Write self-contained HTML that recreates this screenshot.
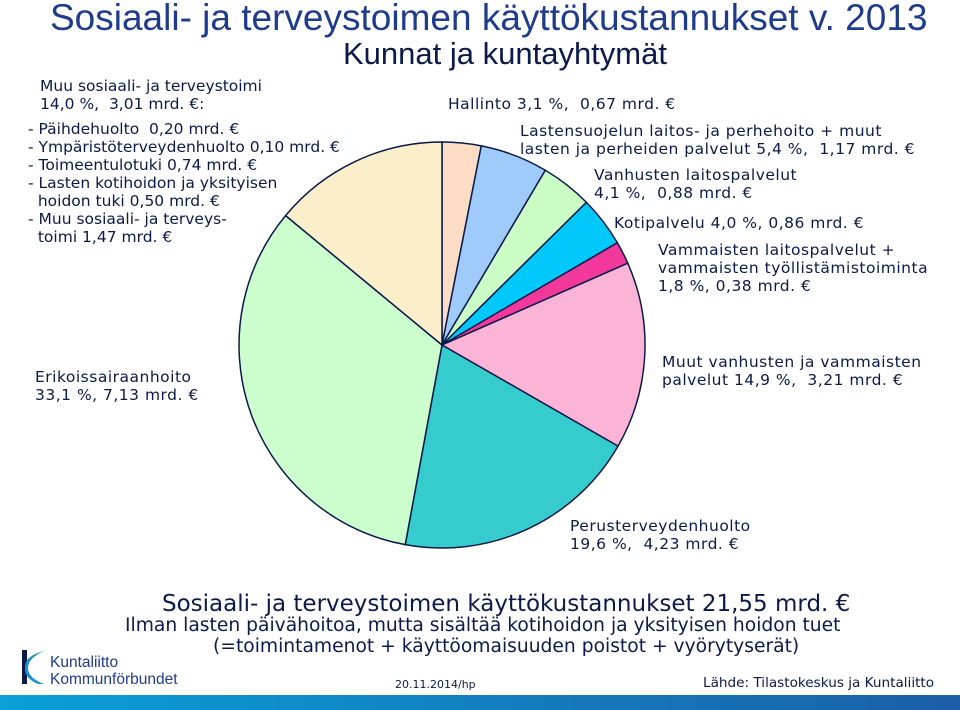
<!DOCTYPE html>
<html><head><meta charset="utf-8"><style>
body{margin:0;width:960px;height:710px;overflow:hidden;background:#fff;position:relative;font-family:"DejaVu Sans","Liberation Sans",sans-serif;color:#0b1a4a}
.t{position:absolute;white-space:pre;font-size:15.5px;line-height:18px}
.r{letter-spacing:0.5px}
</style></head><body>
<div class="t" style="left:50px;top:-2px;font-family:'Liberation Sans',sans-serif;font-size:37px;line-height:40px;color:#1f3c8c">Sosiaali- ja terveystoimen käyttökustannukset v. 2013</div>
<div class="t" style="left:343px;top:37px;font-family:'Liberation Sans',sans-serif;font-size:31px;line-height:34px">Kunnat ja kuntayhtymät</div>
<div class="t" style="left:40px;top:77px">Muu sosiaali- ja terveystoimi
14,0 %,  3,01 mrd. €:</div>
<div class="t" style="left:28px;top:120px">- Päihdehuolto  0,20 mrd. €
- Ympäristöterveydenhuolto 0,10 mrd. €
- Toimeentulotuki 0,74 mrd. €
- Lasten kotihoidon ja yksityisen
  hoidon tuki 0,50 mrd. €
- Muu sosiaali- ja terveys-
  toimi 1,47 mrd. €</div>
<div class="t r" style="left:448px;top:95px">Hallinto 3,1 %,  0,67 mrd. €</div>
<div class="t r" style="left:520px;top:122px">Lastensuojelun laitos- ja perhehoito + muut
lasten ja perheiden palvelut 5,4 %,  1,17 mrd. €</div>
<div class="t r" style="left:594px;top:166px">Vanhusten laitospalvelut
4,1 %,  0,88 mrd. €</div>
<div class="t r" style="left:614px;top:214px">Kotipalvelu 4,0 %, 0,86 mrd. €</div>
<div class="t r" style="left:658px;top:241px">Vammaisten laitospalvelut +
vammaisten työllistämistoiminta
1,8 %, 0,38 mrd. €</div>
<div class="t r" style="left:662px;top:353px">Muut vanhusten ja vammaisten
palvelut 14,9 %,  3,21 mrd. €</div>
<div class="t r" style="left:35px;top:368px">Erikoissairaanhoito
33,1 %, 7,13 mrd. €</div>
<div class="t r" style="left:570px;top:517px">Perusterveydenhuolto
19,6 %,  4,23 mrd. €</div>
<div class="t" style="left:162px;top:590px;font-size:23px;line-height:28px">Sosiaali- ja terveystoimen käyttökustannukset 21,55 mrd. €</div>
<div class="t" style="left:125px;top:615px;font-size:18.7px;line-height:22px">Ilman lasten päivähoitoa, mutta sisältää kotihoidon ja yksityisen hoidon tuet</div>
<div class="t" style="left:213px;top:636px;font-size:18.7px;line-height:22px">(=toimintamenot + käyttöomaisuuden poistot + vyörytyserät)</div>
<div class="t" style="left:50px;top:654px;font-family:'Liberation Sans',sans-serif;font-size:15.5px;line-height:17px;color:#1f3c8c">Kuntaliitto
Kommunförbundet</div>
<svg style="position:absolute;left:20px;top:648px" width="28" height="40"><rect x="2" y="2" width="5" height="34" fill="#0b1a4a"/><path d="M24 3 Q8 10 8 20 Q8 30 24 36 L18 36 Q4 30 5 20 Q4 8 24 3Z" fill="#1a8fd0"/></svg>
<div class="t" style="left:395px;top:676px;font-size:11px">20.11.2014/hp</div>
<div class="t" style="left:703px;top:674px;font-size:13.6px">Lähde: Tilastokeskus ja Kuntaliitto</div>
<div style="position:absolute;left:0;top:695px;width:960px;height:15px;background:linear-gradient(90deg,#0aa0d8,#1a5fa8)"></div>
<svg id="pie" style="position:absolute;left:0;top:0" width="960" height="710"></svg>
<script>
const categories=["Hallinto","Lastensuojelu","Vanhusten laitospalvelut","Kotipalvelu","Vammaisten laitospalvelut","Muut vanhusten ja vammaisten palvelut","Perusterveydenhuolto","Erikoissairaanhoito","Muu sosiaali- ja terveystoimi"];
const values=[3.1,5.4,4.1,4.0,1.8,14.9,19.6,33.1,14.0];
const colors=["#fddcc6","#9fcbfa","#ccfcc6","#00c8fa","#f2399b","#fbb3d6","#36cbcd","#ccfdcc","#faeecb"];
const cx=442,cy=345,r=203;
const svg=document.getElementById('pie');
const total=values.reduce((a,b)=>a+b,0);
let a=0;
values.forEach((v,i)=>{
  const a0=a/total*2*Math.PI; a+=v; const a1=a/total*2*Math.PI;
  const x0=cx+r*Math.sin(a0),y0=cy-r*Math.cos(a0),x1=cx+r*Math.sin(a1),y1=cy-r*Math.cos(a1);
  const p=document.createElementNS('http://www.w3.org/2000/svg','path');
  p.setAttribute('d',`M${cx},${cy}L${x0},${y0}A${r},${r} 0 ${a1-a0>Math.PI?1:0} 1 ${x1},${y1}Z`);
  p.setAttribute('fill',colors[i]);p.setAttribute('stroke','#0b1a4a');p.setAttribute('stroke-width','1.5');
  
  
  svg.appendChild(p);
});
</script>
</body></html>
